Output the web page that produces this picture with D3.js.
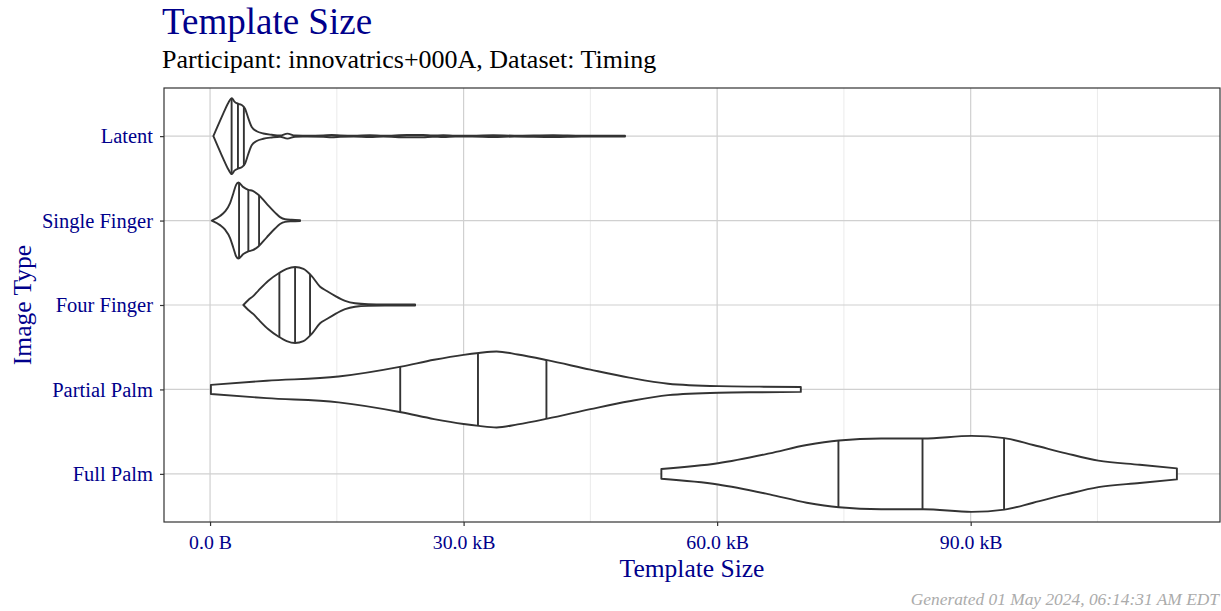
<!DOCTYPE html>
<html><head><meta charset="utf-8">
<script src="https://cdn.jsdelivr.net/npm/d3@7"></script>
<style>
html,body{margin:0;padding:0;background:#fff;}
svg{display:block;font-family:"Liberation Serif","Times New Roman",serif;}
</style></head>
<body><svg id="chart" width="1221" height="611"></svg>
<script>
// ---------- data ----------
const categories = ["Latent", "Single Finger", "Four Finger", "Partial Palm", "Full Palm"];
const xTicksKB = [0, 30, 60, 90];
const xTickLabels = ["0.0 B", "30.0 kB", "60.0 kB", "90.0 kB"];
const xMinorKB = [15, 45, 75, 105];

// violin outlines: template size (kB) and relative density (1 = widest)
const latentSize    = [0.39, 0.98, 1.57, 2.17, 2.57, 2.88, 3.35, 3.75, 4.14, 4.54, 4.93, 5.52, 6.3, 7.3, 8.28, 9.15, 10.06, 11.5, 13.4, 14.4, 15.4, 17, 18.9, 20.5, 23.3, 25.2, 26.3, 27.6, 29, 31, 33.5, 36, 40.6, 44, 49.1];
const latentDensity = [0, 0.3, 0.6, 0.88, 1.0, 0.91, 0.85, 0.82, 0.72, 0.46, 0.24, 0.13, 0.07, 0.035, 0.015, 0.065, 0.015, 0.012, 0.02, 0.03, 0.02, 0.012, 0.025, 0.012, 0.03, 0.03, 0.015, 0.025, 0.012, 0.012, 0.025, 0.012, 0.025, 0.012, 0.012];

const singleSize    = [0.2, 1.18, 1.78, 2.37, 2.76, 3.08, 3.35, 3.94, 4.53, 5.05, 5.72, 6.71, 7.69, 8.28, 8.88, 9.67, 10.65];
const singleDensity = [0, 0.12, 0.24, 0.46, 0.72, 0.94, 1.0, 0.88, 0.81, 0.78, 0.68, 0.44, 0.21, 0.09, 0.035, 0.02, 0.012];

const fourSize    = [3.94, 4.53, 5.13, 5.72, 6.9, 8.08, 9.07, 10.06, 11.05, 12.03, 13.02, 13.81, 14.79, 15.98, 17.16, 18.7, 20.7, 24.26];
const fourDensity = [0, 0.13, 0.24, 0.38, 0.64, 0.83, 0.95, 1.0, 0.95, 0.76, 0.48, 0.37, 0.24, 0.11, 0.045, 0.02, 0.015, 0.015];

const partialSize    = [0.1, 6.7, 15.2, 22.6, 26.5, 30, 31.8, 33.9, 36.4, 39.9, 45, 49.6, 54.2, 60.2, 65, 69.9];
const partialDensity = [0.12, 0.23, 0.34, 0.6, 0.78, 0.91, 0.96, 1.0, 0.92, 0.77, 0.52, 0.31, 0.15, 0.086, 0.073, 0.065];

const fullSize    = [53.4, 60.1, 66.2, 70.6, 74.4, 79.4, 84.4, 90.1, 94, 97.4, 101.3, 105.1, 110, 114.4];
const fullDensity = [0.13, 0.28, 0.54, 0.76, 0.88, 0.93, 0.93, 1.0, 0.94, 0.76, 0.54, 0.35, 0.24, 0.145];

// quantile lines (kB), one value per category
const q25 = [2.55, 3.43, 8.2, 22.5, 74.35];
const q50 = [3.3, 4.53, 10.06, 31.7, 84.3];
const q75 = [4.0, 5.8, 11.83, 39.8, 93.95];

const titleText = "Template Size";
const subtitleText = "Participant: innovatrics+000A, Dataset: Timing";
const xTitle = "Template Size";
const yTitle = "Image Type";
const captionText = "Generated 01 May 2024, 06:14:31 AM EDT";

// ---------- layout ----------
const svg = d3.select("#chart");
const P = {left: 164, right: 1220, top: 88, bottom: 522};
const darkblue = "#00008B";
const ink = "#333333";

const x = d3.scaleLinear().domain([-5.45, 119.5]).range([P.left, P.right]);
const y = d3.scalePoint().domain(categories).range([P.top, P.bottom]).padding(0.57);
const maxHalf = 0.45 * y.step();

const g = svg.append("g");

// grid
g.selectAll("line.minor").data(xMinorKB).join("line")
  .attr("x1", d => x(d)).attr("x2", d => x(d)).attr("y1", P.top).attr("y2", P.bottom)
  .attr("stroke", "#e6e6e6").attr("stroke-width", 0.8);
g.selectAll("line.majx").data(xTicksKB).join("line")
  .attr("x1", d => x(d)).attr("x2", d => x(d)).attr("y1", P.top).attr("y2", P.bottom)
  .attr("stroke", "#d0d0d0").attr("stroke-width", 1.2);
g.selectAll("line.majy").data(categories).join("line")
  .attr("x1", P.left).attr("x2", P.right).attr("y1", d => y(d)).attr("y2", d => y(d))
  .attr("stroke", "#d0d0d0").attr("stroke-width", 1.2);

// violins
const profiles = [
  [latentSize, latentDensity],
  [singleSize, singleDensity],
  [fourSize, fourDensity],
  [partialSize, partialDensity],
  [fullSize, fullDensity]
];
const curve = d3.curveMonotoneX;
const vg = svg.append("g");
profiles.forEach(([sz, dn], i) => {
  const cy = y(categories[i]);
  const pts = sz.map((s, j) => ({s, w: dn[j]}));
  const area = d3.area().curve(curve)
    .x(d => x(d.s))
    .y0(d => cy + d.w * maxHalf)
    .y1(d => cy - d.w * maxHalf);
  vg.append("path").attr("d", area(pts))
    .attr("fill", "#ffffff").attr("stroke", ink).attr("stroke-width", 1.9)
    .attr("stroke-linejoin", "round");
  const topLine = d3.line().curve(curve).x(d => x(d.s)).y(d => cy - d.w * maxHalf);
  const hp = svg.append("path").attr("d", topLine(pts)).attr("fill", "none").attr("stroke", "none");
  const node = hp.node();
  const L = node.getTotalLength();
  function topAt(px) {
    let lo = 0, hi = L;
    for (let k = 0; k < 40; k++) {
      const mid = (lo + hi) / 2;
      if (node.getPointAtLength(mid).x < px) lo = mid; else hi = mid;
    }
    return node.getPointAtLength((lo + hi) / 2).y;
  }
  [q25[i], q50[i], q75[i]].forEach(q => {
    const px = x(q);
    const half = cy - topAt(px);
    vg.append("line").attr("x1", px).attr("x2", px)
      .attr("y1", cy - half).attr("y2", cy + half)
      .attr("stroke", ink).attr("stroke-width", 1.9);
  });
  hp.remove();
});

// panel border
svg.append("rect").attr("x", P.left).attr("y", P.top)
  .attr("width", P.right - P.left).attr("height", P.bottom - P.top)
  .attr("fill", "none").attr("stroke", ink).attr("stroke-width", 1.2);

// axes
const xAxis = d3.axisBottom(x).tickValues(xTicksKB).tickFormat((d, i) => xTickLabels[i])
  .tickSizeInner(4).tickSizeOuter(0).tickPadding(5);
const xa = svg.append("g").attr("transform", `translate(0,${P.bottom})`).call(xAxis);
xa.select(".domain").remove();
xa.selectAll(".tick line").attr("stroke", ink).attr("stroke-width", 1.2);
xa.selectAll(".tick text").attr("fill", darkblue).attr("font-size", 19.8)
  .attr("font-family", "Liberation Serif").attr("dy", "0.9em");

const yAxis = d3.axisLeft(y).tickSizeInner(4).tickSizeOuter(0).tickPadding(7);
const ya = svg.append("g").attr("transform", `translate(${P.left},0)`).call(yAxis);
ya.select(".domain").remove();
ya.selectAll(".tick line").attr("stroke", ink).attr("stroke-width", 1.2);
ya.selectAll(".tick text").attr("fill", darkblue).attr("font-size", 20.5)
  .attr("font-family", "Liberation Serif").attr("dy", "0.33em");

// titles
svg.append("text").attr("x", 162).attr("y", 34).attr("font-size", 37)
  .attr("fill", darkblue).text(titleText);
svg.append("text").attr("x", 162).attr("y", 68).attr("font-size", 26)
  .attr("fill", "#000").text(subtitleText);
svg.append("text").attr("x", (P.left + P.right) / 2).attr("y", 577)
  .attr("text-anchor", "middle").attr("font-size", 25.5).attr("fill", darkblue).text(xTitle);
svg.append("text").attr("transform", `translate(31,${(P.top + P.bottom) / 2}) rotate(-90)`)
  .attr("text-anchor", "middle").attr("font-size", 25.5).attr("fill", darkblue).text(yTitle);
svg.append("text").attr("x", 1219).attr("y", 605).attr("text-anchor", "end")
  .attr("font-size", 17.4).attr("font-style", "italic").attr("fill", "#ababab").text(captionText);
</script>
</body></html>
